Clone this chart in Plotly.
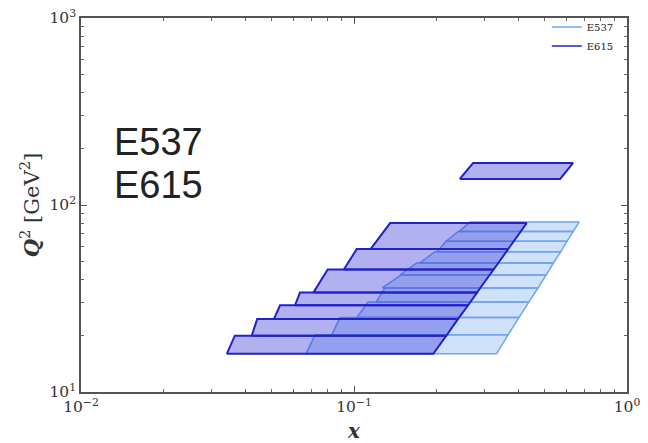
import plotly.graph_objects as go

# Kinematic coverage of the two Drell-Yan data sets in the (x, Q^2) plane.
# Each bin is a quadrilateral: Q^2 range, and the x range at the lower and upper Q^2 edge.

# E537
e537_q2_lo = [16.0, 20.25, 25.0, 30.25, 36.0, 42.25, 49.0, 56.25, 64.0, 72.25]
e537_q2_hi = [20.25, 25.0, 30.25, 36.0, 42.25, 49.0, 56.25, 64.0, 72.25, 81.0]
e537_xmin_lo = [0.0667, 0.0829, 0.1023, 0.1204, 0.1270, 0.1474, 0.1745, 0.2014, 0.2173, 0.2430]
e537_xmin_hi = [0.0720, 0.0889, 0.1128, 0.1299, 0.1487, 0.1697, 0.1980, 0.2173, 0.2410, 0.2660]
e537_xmax_lo = [0.333, 0.367, 0.402, 0.437, 0.472, 0.506, 0.538, 0.572, 0.603, 0.635]
e537_xmax_hi = [0.367, 0.402, 0.437, 0.472, 0.506, 0.538, 0.572, 0.603, 0.635, 0.668]

# E615
e615_q2_lo = [16.0, 20.0, 24.6, 29.1, 34.0, 45.2, 58.1, 137.8]
e615_q2_hi = [20.0, 24.6, 29.1, 34.0, 45.2, 58.1, 80.0, 167.5]
e615_xmin_lo = [0.0342, 0.0422, 0.0509, 0.0608, 0.0710, 0.0918, 0.1150, 0.244]
e615_xmin_hi = [0.0366, 0.0442, 0.0536, 0.0634, 0.0801, 0.1023, 0.1356, 0.273]
e615_xmax_lo = [0.1952, 0.2178, 0.2406, 0.2618, 0.2822, 0.3246, 0.3671, 0.569]
e615_xmax_hi = [0.2178, 0.2406, 0.2618, 0.2822, 0.3246, 0.3671, 0.4291, 0.634]

x_tickvals = [0.01, 0.1, 1]
x_ticktext = ["10<sup>\u22122</sup>", "10<sup>\u22121</sup>", "10<sup>0</sup>"]
y_tickvals = [10, 100, 1000]
y_ticktext = ["10<sup>1</sup>", "10<sup>2</sup>", "10<sup>3</sup>"]

datasets = [
    dict(name="E537", q_lo=e537_q2_lo, q_hi=e537_q2_hi,
         a_lo=e537_xmin_lo, a_hi=e537_xmin_hi, b_lo=e537_xmax_lo, b_hi=e537_xmax_hi,
         line="#6fa4ee", fill="rgba(100,160,240,0.30)", width=1.5),
    dict(name="E615", q_lo=e615_q2_lo, q_hi=e615_q2_hi,
         a_lo=e615_xmin_lo, a_hi=e615_xmin_hi, b_lo=e615_xmax_lo, b_hi=e615_xmax_hi,
         line="#2222c8", fill="rgba(50,50,215,0.38)", width=2),
]

fig = go.Figure()

for ds in datasets:
    for ql, qh, al, ah, bl, bh in zip(ds["q_lo"], ds["q_hi"], ds["a_lo"],
                                      ds["a_hi"], ds["b_lo"], ds["b_hi"]):
        fig.add_trace(go.Scatter(
            x=[al, bl, bh, ah, al], y=[ql, ql, qh, qh, ql],
            mode="lines", fill="toself", fillcolor=ds["fill"],
            line=dict(color=ds["line"], width=ds["width"]),
            showlegend=False, hoverinfo="skip"))

# legend entries drawn as plain lines
for ds in datasets:
    fig.add_trace(go.Scatter(x=[None], y=[None], mode="lines", name=ds["name"],
                             line=dict(color=ds["line"], width=1.5)))

serif = "DejaVu Serif"
axis_common = dict(
    type="log", showgrid=False, zeroline=False, automargin=False,
    showline=True, linecolor="#555", linewidth=1.5, mirror="ticks",
    ticks="inside", ticklen=6, tickwidth=1, tickcolor="#555",
    minor=dict(ticks="inside", ticklen=3, tickwidth=1, tickcolor="#666",
               dtick="D1", showgrid=False),
    tickfont=dict(family=serif, size=15.5, color="#333"),
)

fig.update_layout(
    width=648, height=443,
    margin=dict(l=81, r=21, t=14, b=51),
    paper_bgcolor="white", plot_bgcolor="white",
    xaxis=dict(axis_common, range=[-2, 0], tickvals=x_tickvals, ticktext=x_ticktext,
               title=dict(text="<b><i>x</i></b>", font=dict(family=serif, size=20, color="#333"))),
    yaxis=dict(axis_common, range=[1, 3], tickvals=y_tickvals, ticktext=y_ticktext),
    legend=dict(x=0.985, y=1.015, xanchor="right", yanchor="top",
                font=dict(family=serif, size=10, color="#222"),
                bgcolor="rgba(255,255,255,0)", tracegroupgap=0, itemwidth=30),
    annotations=[
        dict(text="<b><i>Q</i></b><sup>2</sup> [GeV<sup>2</sup>]", xref="paper", yref="paper",
             x=-0.093, y=0.5, xanchor="center", yanchor="middle", textangle=-90,
             showarrow=False, font=dict(family=serif, size=21, color="#333")),
        dict(text="E537", xref="paper", yref="paper", x=0.057, y=0.668,
             xanchor="left", yanchor="middle", showarrow=False,
             font=dict(family="Liberation Sans", size=38, color="#222")),
        dict(text="E615", xref="paper", yref="paper", x=0.057, y=0.553,
             xanchor="left", yanchor="middle", showarrow=False,
             font=dict(family="Liberation Sans", size=38, color="#222")),
    ],
)

fig.write_html("out.html")
